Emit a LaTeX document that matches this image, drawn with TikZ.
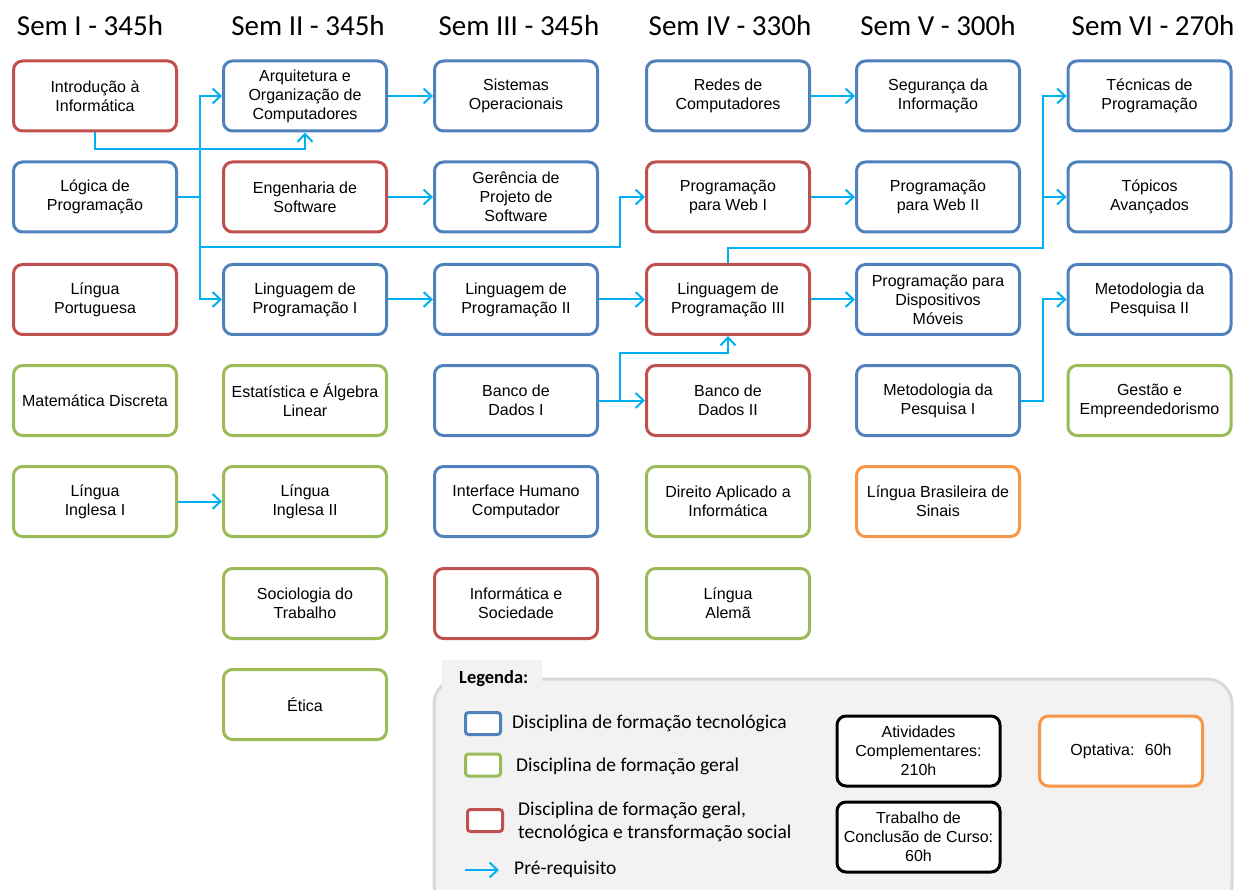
\documentclass[tikz,border=0pt]{standalone}
\usepackage{fontspec}
\setmainfont{Liberation Sans}
\newfontfamily\calibri{Carlito}
\usetikzlibrary{arrows.meta}
\definecolor{formtecnologica}{RGB}{79,129,189}
\definecolor{formgeral}{RGB}{155,187,89}
\definecolor{formsocial}{RGB}{192,80,77}
\definecolor{optativa}{RGB}{247,150,70}
\definecolor{prerequisito}{RGB}{0,176,240}
\definecolor{legendafundo}{RGB}{242,242,242}
\definecolor{legendaborda}{RGB}{217,217,217}

\tikzset{
  disciplina/.style={draw=#1, fill=white, rounded corners=9pt, line width=3pt,
    minimum width=163pt, minimum height=70pt, inner sep=1pt, align=center,
    font=\fontsize{16}{19}\selectfont},
  seta/.style={draw=prerequisito, line width=2pt, -{Straight Barb[length=8pt,width=15pt]}},
  semestre/.style={font=\calibri\fontsize{29}{34}\selectfont, anchor=base},
  legtexto/.style={font=\calibri\fontsize{19.5}{23}\selectfont, anchor=west, align=left, inner sep=0pt},
  legcaixa/.style={draw=#1, fill=white, rounded corners=3pt, line width=3pt,
    minimum width=35pt, minimum height=22pt, inner sep=0pt},
}

\begin{document}
\begin{tikzpicture}[x=1pt,y=-1pt]
	\useasboundingbox (0,0) rectangle (1247,890);
	\clip (0,0) rectangle (1247,890);
	
	% semestres
	\node[semestre] (s1) at (90,36) {Sem I - 345h};
	\node[semestre] (s2) at (308,36) {Sem II - 345h};
	\node[semestre] (s3) at (519,36) {Sem III - 345h};
	\node[semestre] (s4) at (730,36) {Sem IV - 330h};
	\node[semestre] (s5) at (938,36) {Sem V - 300h};
	\node[semestre] (s6) at (1153,36) {Sem VI - 270h};
	
	% Sem I
	\node[disciplina=formsocial] (intro) at (95,96) {Introdução à\\Informática};
	\node[disciplina=formtecnologica] (logica) at (95,197) {Lógica de\\Programação};
	\node[disciplina=formsocial] (portugues) at (95,299.5) {Língua\\Portuguesa};
	\node[disciplina=formgeral] (matdiscreta) at (95,400.5) {Matemática Discreta};
	\node[disciplina=formgeral] (ingles1) at (95,501.5) {Língua\\Inglesa I};
	
	% Sem II
	\node[disciplina=formtecnologica] (arq) at (305,96) {Arquitetura e\\Organização de\\Computadores};
	\node[disciplina=formsocial] (engsoft) at (305,197) {Engenharia de\\Software};
	\node[disciplina=formtecnologica] (lp1) at (305,299.5) {Linguagem de\\Programação I};
	\node[disciplina=formgeral] (estat) at (305,400.5) {Estatística e Álgebra\\Linear};
	\node[disciplina=formgeral] (ingles2) at (305,501.5) {Língua\\Inglesa II};
	\node[disciplina=formgeral] (socio) at (305,603.5) {Sociologia do\\Trabalho};
	\node[disciplina=formgeral] (etica) at (305,704.5) {Ética};
	
	% Sem III
	\node[disciplina=formtecnologica] (so) at (516,96) {Sistemas\\Operacionais};
	\node[disciplina=formtecnologica] (gerencia) at (516,197) {Gerência de\\Projeto de\\Software};
	\node[disciplina=formtecnologica] (lp2) at (516,299.5) {Linguagem de\\Programação II};
	\node[disciplina=formtecnologica] (bd1) at (516,400.5) {Banco de\\Dados I};
	\node[disciplina=formtecnologica] (ihc) at (516,501.5) {Interface Humano\\Computador};
	\node[disciplina=formsocial] (infsoc) at (516,603.5) {Informática e\\Sociedade};
	
	% Sem IV
	\node[disciplina=formtecnologica] (redes) at (728,96) {Redes de\\Computadores};
	\node[disciplina=formsocial] (web1) at (728,197) {Programação\\para Web I};
	\node[disciplina=formsocial] (lp3) at (728,299.5) {Linguagem de\\Programação III};
	\node[disciplina=formsocial] (bd2) at (728,400.5) {Banco de\\Dados II};
	\node[disciplina=formgeral] (direito) at (728,501.5) {Direito Aplicado a\\Informática};
	\node[disciplina=formgeral] (alema) at (728,603.5) {Língua\\Alemã};
	
	% Sem V
	\node[disciplina=formtecnologica] (seg) at (938,96) {Segurança da\\Informação};
	\node[disciplina=formtecnologica] (web2) at (938,197) {Programação\\para Web II};
	\node[disciplina=formtecnologica] (moveis) at (938,299.5) {Programação para\\Dispositivos\\Móveis};
	\node[disciplina=formtecnologica] (metod1) at (938,400.5) {Metodologia da\\Pesquisa I};
	\node[disciplina=optativa] (libras) at (938,501.5) {Língua Brasileira de\\Sinais};
	
	% Sem VI
	\node[disciplina=formtecnologica] (tecnicas) at (1149.5,96) {Técnicas de\\Programação};
	\node[disciplina=formtecnologica] (topicos) at (1149.5,197) {Tópicos\\Avançados};
	\node[disciplina=formtecnologica] (metod2) at (1149.5,299.5) {Metodologia da\\Pesquisa II};
	\node[disciplina=formgeral] (gestao) at (1149.5,400.5) {Gestão e\\Empreendedorismo};
	
	% pre-requisitos
	\coordinate (tronco) at (200,197);
	\coordinate (desvio) at (620,247);
	\coordinate (juntavi) at (1043,248);
	\coordinate (juntabd) at (620,400.5);
	\draw[seta] (intro.south) -- ++(0,17) -| (arq.south);
	\draw[seta] (logica.east) -- (tronco) |- (arq.west);
	\draw[seta] (logica.east) -- (tronco) |- (lp1.west);
	\draw[seta] (tronco) |- (desvio) |- (web1.west);
	\draw[seta] (arq.east) -- (so.west);
	\draw[seta] (engsoft.east) -- (gerencia.west);
	\draw[seta] (lp1.east) -- (lp2.west);
	\draw[seta] (lp2.east) -- (lp3.west);
	\draw[seta] (lp3.east) -- (moveis.west);
	\draw[seta] (bd1.east) -- (bd2.west);
	\draw[seta] (juntabd) -- ++(0,-47) -| (lp3.south);
	\draw[seta] (redes.east) -- (seg.west);
	\draw[seta] (web1.east) -- (web2.west);
	\draw[seta] (lp3.north) |- (juntavi) |- (tecnicas.west);
	\draw[seta] (juntavi) |- (topicos.west);
	\draw[seta] (metod1.east) -- ++(22,0) |- (metod2.west);
	\draw[seta] (ingles1.east) -- (ingles2.west);
	
	% legenda
	\draw[legendaborda, fill=legendafundo, line width=3pt, rounded corners=25pt] (434,679) rectangle (1232,910);
	\fill[legendafundo] (442,660) rectangle (542,690);
	\node[legtexto, font=\calibri\bfseries\fontsize{18.5}{22}\selectfont] (legenda) at (459,679) {Legenda:};
	\node[legcaixa=formtecnologica] (legtec) at (483,723.5) {};
	\node[legtexto] (legtectxt) at (512,723) {Disciplina de formação tecnológica};
	\node[legcaixa=formgeral] (leggeral) at (483,765) {};
	\node[legtexto] (leggeraltxt) at (516,766) {Disciplina de formação geral};
	\node[legcaixa=formsocial] (legsocial) at (485,820.5) {};
	\node[legtexto] (legsocialtxt) at (518,822) {Disciplina de formação geral,\\tecnológica e transformação social};
	\coordinate (legsetaA) at (465,870);
	\coordinate (legsetaB) at (499,870);
	\draw[seta] (legsetaA) -- (legsetaB);
	\node[legtexto] (legsetatxt) at (514,869) {Pré-requisito};
	
	\node[disciplina=black] (atividades) at (918.5,751) {Atividades\\Complementares:\\210h};
	\node[disciplina=black] (tcc) at (918.5,837) {Trabalho de\\Conclusão de Curso:\\60h};
	\node[disciplina=optativa] (optativa) at (1121,751) {Optativa:~ 60h};
\end{tikzpicture}
\end{document}
